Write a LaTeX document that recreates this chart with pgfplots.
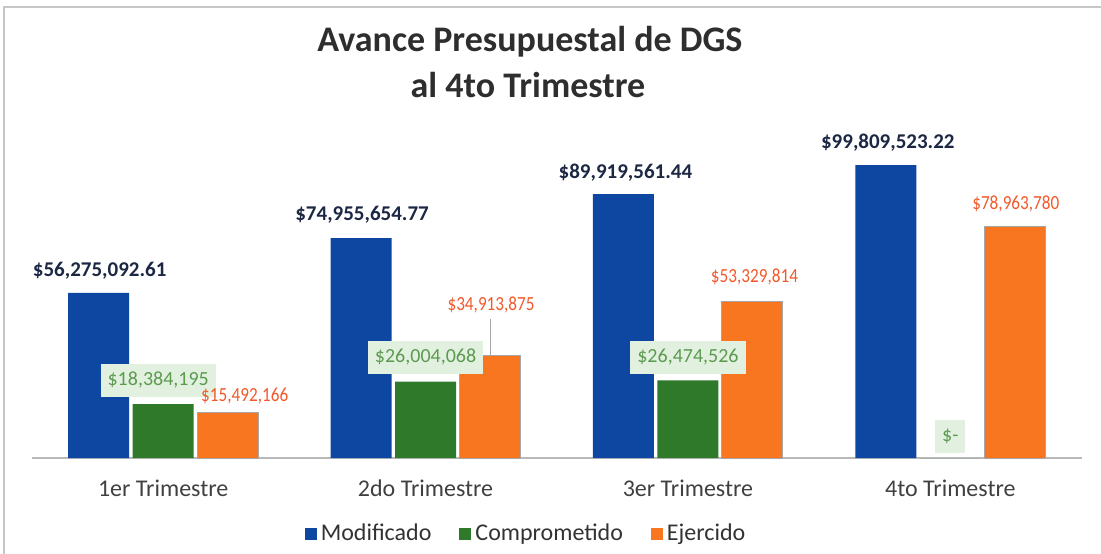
\documentclass[border=0pt]{standalone}
\usepackage{pgfplots}
\usepackage{pgfplotstable}
\usepackage{graphicx}
\usepackage{fontspec}
\setmainfont{Carlito}
\pgfplotsset{compat=1.18}

\definecolor{cBlue}{HTML}{0D47A1}
\definecolor{cGreen}{HTML}{2E7A2A}
\definecolor{cOrange}{HTML}{F7761F}
\definecolor{cNavy}{HTML}{1C2744}
\definecolor{cGreenTxt}{HTML}{5C9A50}
\definecolor{cGreenBox}{HTML}{E2F1DF}
\definecolor{cOrangeTxt}{HTML}{F0592A}
\definecolor{cTick}{HTML}{404040}

% values in millions; dy = baseline above bar top (pt), dx = sideways shift (pt)
\pgfplotstableread{
x y lab dy dx
0 56.27509261 {\$56,275,092.61} 8 0.5
1 74.95565477 {\$74,955,654.77} 9 0.5
2 89.91956144 {\$89,919,561.44} 8 1
3 99.80952322 {\$99,809,523.22} 8.5 1
}\modificado

% dy = box centre above bar top (pt)
\pgfplotstableread{
x y lab dy dx
0 18.384195 {\$18,384,195} 12 -2.5
1 26.004068 {\$26,004,068} 12.3 0
2 26.474526 {\$26,474,526} 11.5 0
3 0 {\$-} 11 0
}\comprometido

\pgfplotstableread{
x y lab dy dx
0 15.492166 {\$15,492,166} 5.5 8.5
1 34.913875 {\$34,913,875} 22.5 0.5
2 53.329814 {\$53,329,814} 9.5 1
3 78.963780 {\$78,963,780} 8.5 0.5
}\ejercido

\begin{document}
\begin{tikzpicture}
\useasboundingbox (0,0) rectangle (550.5pt,276.5pt);
\draw[gray!45, line width=0.6pt] (2pt,-1pt) -- (2pt,273pt) -- (552pt,273pt);

\node[font=\bfseries\fontsize{18}{20}\selectfont, text=black!82] at (265pt,255.5pt) {Avance Presupuestal de DGS};
\node[font=\bfseries\fontsize{18}{20}\selectfont, text=black!82] at (264pt,234pt) {al 4to Trimestre};

\begin{axis}[
  at={(16pt,47.5pt)}, anchor=south west,
  scale only axis, width=524.75pt, height=161.4pt,
  ybar, bar width=30.5pt,
  xmin=-0.5, xmax=3.5, ymin=0, ymax=110,
  clip=false,
  axis y line=none,
  axis x line*=bottom,
  x axis line style={draw=gray!55, line width=0.8pt, -},
  xtick={0,1,2,3},
  xticklabels={1er Trimestre,2do Trimestre,3er Trimestre,4to Trimestre},
  major tick length=0pt,
  xticklabel style={anchor=base, inner sep=0pt, yshift=-19pt, text=cTick,
    font=\fontsize{12}{14}\selectfont},
  point meta=explicit symbolic,
  visualization depends on={\thisrow{dy} \as \dy},
  visualization depends on={\thisrow{dx} \as \dx},
  legend style={at={(axis description cs:0.4717,-0.2355)}, anchor=center,
    draw=none, fill=none, legend columns=3,
    font=\fontsize{12}{14}\selectfont, text=black!80,
    /tikz/every even column/.append style={column sep=12pt}},
  legend image code/.code={\fill[#1] (0pt,-3pt) rectangle (6pt,3pt);},
]
% Modificado
\addplot[fill=cBlue, draw=none, bar shift=-32.25pt, forget plot,
  nodes near coords,
  every node near coord/.append style={anchor=base, inner sep=0pt,
    yshift=\dy pt, xshift=\dx pt, text=cNavy,
    font=\bfseries\fontsize{10.5}{12}\selectfont}]
  table[x=x, y=y, meta=lab] {\modificado};
% Ejercido (bars)
\addplot[fill=cOrange, draw=gray!70, line width=0.5pt, bar shift=32.25pt, forget plot]
  table[x=x, y=y, meta=lab] {\ejercido};
% Comprometido
\addplot[fill=cGreen, draw=none, bar shift=0pt, forget plot,
  nodes near coords,
  every node near coord/.append style={anchor=center, fill=cGreenBox,
    inner xsep=3.5pt, minimum height=16.5pt,
    yshift=\dy pt, xshift=\dx pt, text=cGreenTxt,
    font=\fontsize{10}{12}\selectfont}]
  table[x=x, y=y, meta=lab] {\comprometido};
% Ejercido (labels, drawn on top of the green boxes)
\addplot[draw=none, fill=none, bar shift=32.25pt, forget plot,
  nodes near coords={\scalebox{0.86}[1]{\pgfplotspointmeta}},
  every node near coord/.append style={anchor=base, inner sep=0pt,
    yshift=\dy pt, xshift=\dx pt, text=cOrangeTxt,
    font=\fontsize{10}{12}\selectfont}]
  table[x=x, y=y, meta=lab] {\ejercido};

\draw[gray!70, line width=0.5pt] (axis cs:1.2457,34.913875) -- ++(0pt,18.5pt);

\addlegendimage{fill=cBlue, draw=none}
\addlegendentry{Modificado}
\addlegendimage{fill=cGreen, draw=none}
\addlegendentry{Comprometido}
\addlegendimage{fill=cOrange, draw=none}
\addlegendentry{Ejercido}
\end{axis}
\end{tikzpicture}
\end{document}
